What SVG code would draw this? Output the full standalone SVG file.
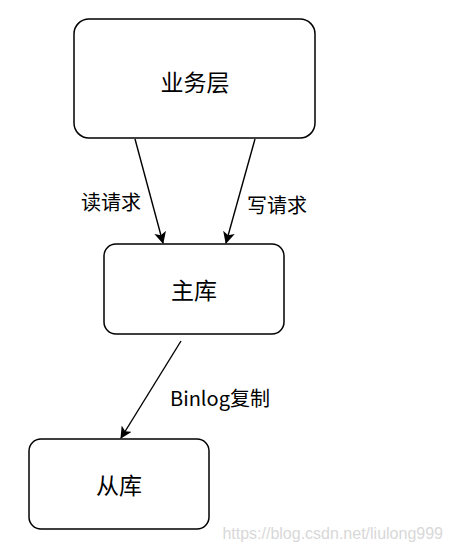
<svg xmlns="http://www.w3.org/2000/svg" width="453" height="551" viewBox="0 0 453 551">
<style>
.box{fill:#fff;stroke:#000;stroke-width:1.5}
.t{font-family:"Noto Sans CJK SC","Liberation Sans",sans-serif;fill:#000;text-anchor:middle;dominant-baseline:central}
.n{font-size:23px}
.l{font-size:20px}
.e{stroke:#000;stroke-width:1.4;fill:none;marker-end:url(#ah)}
</style>
<defs>
<marker id="ah" viewBox="0 0 12 12" refX="11" refY="6" markerWidth="12" markerHeight="12" markerUnits="userSpaceOnUse" orient="auto">
<path d="M0,0 L12,6 L0,12 L3,6 Z" fill="#000"/>
</marker>
</defs>
<rect width="453" height="551" fill="#fff"/>
<g id="edges">
<line class="e" x1="135" y1="139" x2="163" y2="243"/>
<line class="e" x1="255" y1="139" x2="226" y2="243"/>
<line class="e" x1="181" y1="341" x2="121" y2="438"/>
<text class="t l" x="111" y="201">读请求</text>
<text class="t l" x="277" y="204">写请求</text>
<text class="t l" x="220" y="397">Binlog复制</text>
</g>
<g id="business">
<rect class="box" x="74" y="19" width="241" height="119" rx="15"/>
<text class="t n" x="195" y="81">业务层</text>
</g>
<g id="master">
<rect class="box" x="104" y="244" width="180" height="90" rx="12"/>
<text class="t n" x="194" y="289">主库</text>
</g>
<g id="slave">
<rect class="box" x="29" y="439" width="180" height="90" rx="12"/>
<text class="t n" x="119" y="484">从库</text>
</g>
<text x="443" y="533" font-family="'Liberation Sans',sans-serif" font-size="16" fill="#d8d8d8" text-anchor="end" dominant-baseline="central">https://blog.csdn.net/liulong999</text>
</svg>
